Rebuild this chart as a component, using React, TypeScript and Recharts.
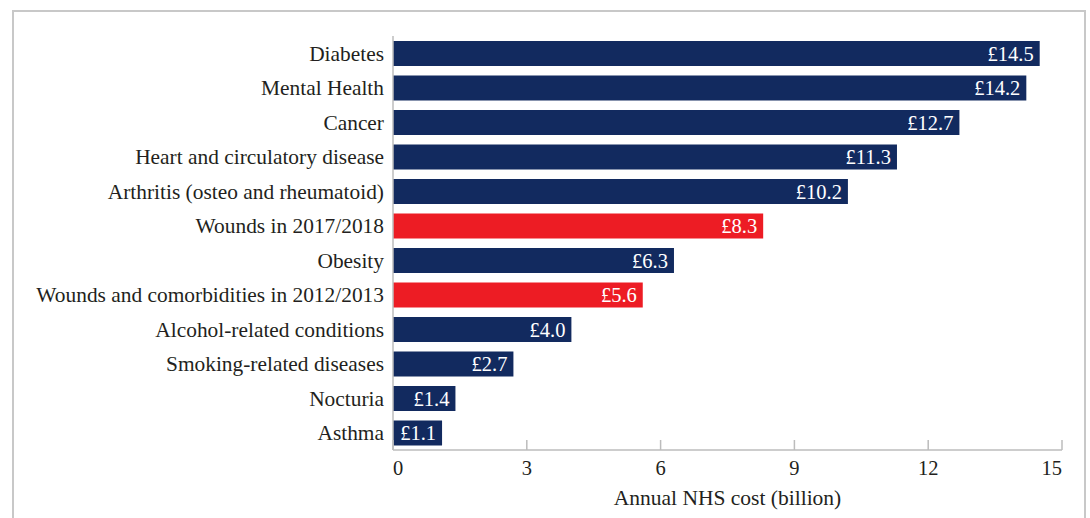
import React from "react";
import { BarChart, Bar, XAxis, YAxis, Cell, LabelList } from "recharts";

const conditions = [
  "Diabetes",
  "Mental Health",
  "Cancer",
  "Heart and circulatory disease",
  "Arthritis (osteo and rheumatoid)",
  "Wounds in 2017/2018",
  "Obesity",
  "Wounds and comorbidities in 2012/2013",
  "Alcohol-related conditions",
  "Smoking-related diseases",
  "Nocturia",
  "Asthma",
];
const annualCost = [14.5, 14.2, 12.7, 11.3, 10.2, 8.3, 6.3, 5.6, 4.0, 2.7, 1.4, 1.1];
const woundRows = ["Wounds in 2017/2018", "Wounds and comorbidities in 2012/2013"];
const costTicks = [0, 3, 6, 9, 12, 15];

const NAVY = "#122a5f";
const RED = "#ed1c24";
const AXIS = "#bcbcbc";
const INK = "#231f20";
const FONT = "'Liberation Serif', 'DejaVu Serif', serif";

type Row = { name: string; cost: number };
const rows: Row[] = conditions.map((name, i) => ({ name, cost: annualCost[i] }));

// ticks point up into the plot, outer labels are kept inside the axis span
const CostTick = (props: any) => {
  const { x, y, payload, index } = props;
  const anchor = index === 0 ? "start" : index === costTicks.length - 1 ? "end" : "middle";
  return (
    <g>
      <line x1={x} x2={x} y1={y - 10} y2={y} stroke={AXIS} strokeWidth={1.5} />
      <text x={x} y={y + 25} textAnchor={anchor} fill={INK} fontSize={20.5} fontFamily={FONT}>
        {payload.value}
      </text>
    </g>
  );
};

const App = () => {
  return (
    <div style={{ position: "absolute", left: 0, top: 0, width: 1090, height: 518, background: "#fff", overflow: "hidden" }}>
      <div
        style={{
          position: "absolute",
          left: 12,
          top: 10,
          width: 1070,
          height: 540,
          border: "2px solid #c8c8c8",
        }}
      />
      <BarChart
        layout="vertical"
        width={1090}
        height={518}
        data={rows}
        margin={{ top: 36, right: 28, bottom: 0, left: 0 }}
        barSize={25}
        style={{ position: "absolute", left: 0, top: 0 }}
      >
        <XAxis
          type="number"
          dataKey="cost"
          domain={[0, 15]}
          ticks={costTicks}
          height={68}
          tickSize={0}
          tickMargin={0}
          tickLine={false}
          axisLine={{ stroke: AXIS, strokeWidth: 1.5 }}
          tick={<CostTick />}
          label={{
            value: "Annual NHS cost (billion)",
            position: "insideBottom",
            offset: 13,
            fill: INK,
            fontSize: 21.5,
            fontFamily: FONT,
          }}
        />
        <YAxis
          type="category"
          dataKey="name"
          width={393}
          tickSize={0}
          tickMargin={9}
          tickLine={false}
          axisLine={{ stroke: AXIS, strokeWidth: 1.5 }}
          tick={{ fill: INK, fontSize: 21.4, fontFamily: FONT }}
          interval={0}
        />
        <Bar dataKey="cost" isAnimationActive={false}>
          {rows.map((r) => (
            <Cell key={r.name} fill={woundRows.includes(r.name) ? RED : NAVY} />
          ))}
          <LabelList
            dataKey="cost"
            position="insideRight"
            offset={6}
            fill="#ffffff"
            fontSize={20.5}
            fontFamily={FONT}
            formatter={(v: any) => `£${Number(v).toFixed(1)}`}
          />
        </Bar>
      </BarChart>
    </div>
  );
};

export default App;
